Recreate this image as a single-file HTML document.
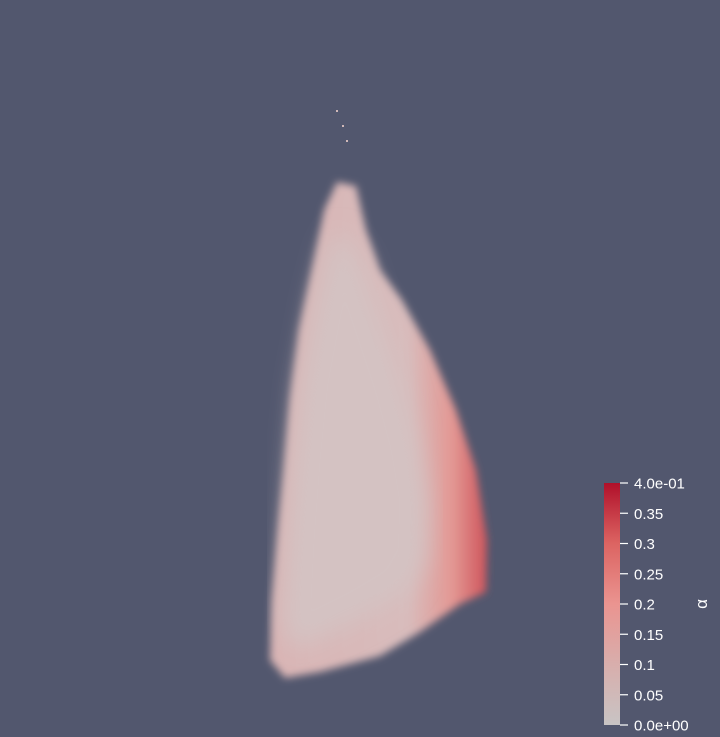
<!DOCTYPE html>
<html><head><meta charset="utf-8"><style>
html,body{margin:0;padding:0;background:#52576e;width:720px;height:737px;overflow:hidden}
svg{display:block}
text{font-family:"Liberation Sans",sans-serif;fill:#fff}
</style></head><body>
<svg width="720" height="737">
<defs>
<linearGradient id="cloudg" x1="270" y1="0" x2="492" y2="0" gradientUnits="userSpaceOnUse">
<stop offset="0" stop-color="#d9b4b4"/><stop offset="0.62" stop-color="#d8bcbc"/>
<stop offset="0.82" stop-color="#e39894"/><stop offset="1" stop-color="#cc4a52"/>
</linearGradient>
<linearGradient id="cbar" x1="0" y1="1" x2="0" y2="0">
<stop offset="0" stop-color="#c8c4c4"/><stop offset="0.25" stop-color="#d8aeac"/>
<stop offset="0.5" stop-color="#ea9490"/><stop offset="0.75" stop-color="#dc6462"/>
<stop offset="1" stop-color="#b0102a"/>
</linearGradient>
<filter id="blur"><feGaussianBlur stdDeviation="12"/></filter>
<filter id="blur2"><feGaussianBlur stdDeviation="4"/></filter>
</defs>
<g>
<polygon filter="url(#blur2)" fill="url(#cloudg)" points="337,182 356,186 366,230 380,270 402,300 430,350 456,410 476,470 487,540 486,592 460,604 420,632 380,656 320,672 285,678 270,660 272,600 279,520 284,470 290,400 299,330 314,260 324,210"/>
<polygon filter="url(#blur)" fill="#d4c2c2" points="340,230 362,260 382,320 402,380 418,440 428,500 426,560 408,592 370,615 320,640 292,650 282,620 286,540 292,460 300,380 315,300 328,250"/>
<rect x="336" y="110" width="2" height="2" fill="#d0b8b8"/>
<rect x="342" y="125" width="2" height="2" fill="#d0b8b8"/>
<rect x="346" y="140" width="2" height="2" fill="#d0b8b8"/>
</g>
<g id="colorbar">
<rect x="604" y="483" width="16" height="242" fill="url(#cbar)"/>
<text x="707" y="604" font-size="17" transform="rotate(-90 707 604)" text-anchor="middle">α</text>
</g>
<script>
const tickValues=[0,0.05,0.1,0.15,0.2,0.25,0.3,0.35,0.4];
const tickLabels=["0.0e+00","0.05","0.1","0.15","0.2","0.25","0.3","0.35","4.0e-01"];
const vmin=0,vmax=0.4,y0=725,y1=483;
const g=document.getElementById('colorbar');
const ns='http://www.w3.org/2000/svg';
tickValues.forEach((v,i)=>{
 const y=y0+(y1-y0)*(v-vmin)/(vmax-vmin);
 const l=document.createElementNS(ns,'line');
 l.setAttribute('x1',620);l.setAttribute('x2',628);l.setAttribute('y1',y);l.setAttribute('y2',y);
 l.setAttribute('stroke','#fff');l.setAttribute('stroke-width','1.2');
 
 
 g.appendChild(l);
 const t=document.createElementNS(ns,'text');
 t.setAttribute('x',634);t.setAttribute('y',y+5.5);t.setAttribute('font-size','15');
 t.textContent=tickLabels[i];
 
 
 g.appendChild(t);
});
</script>
</svg>
</body></html>
